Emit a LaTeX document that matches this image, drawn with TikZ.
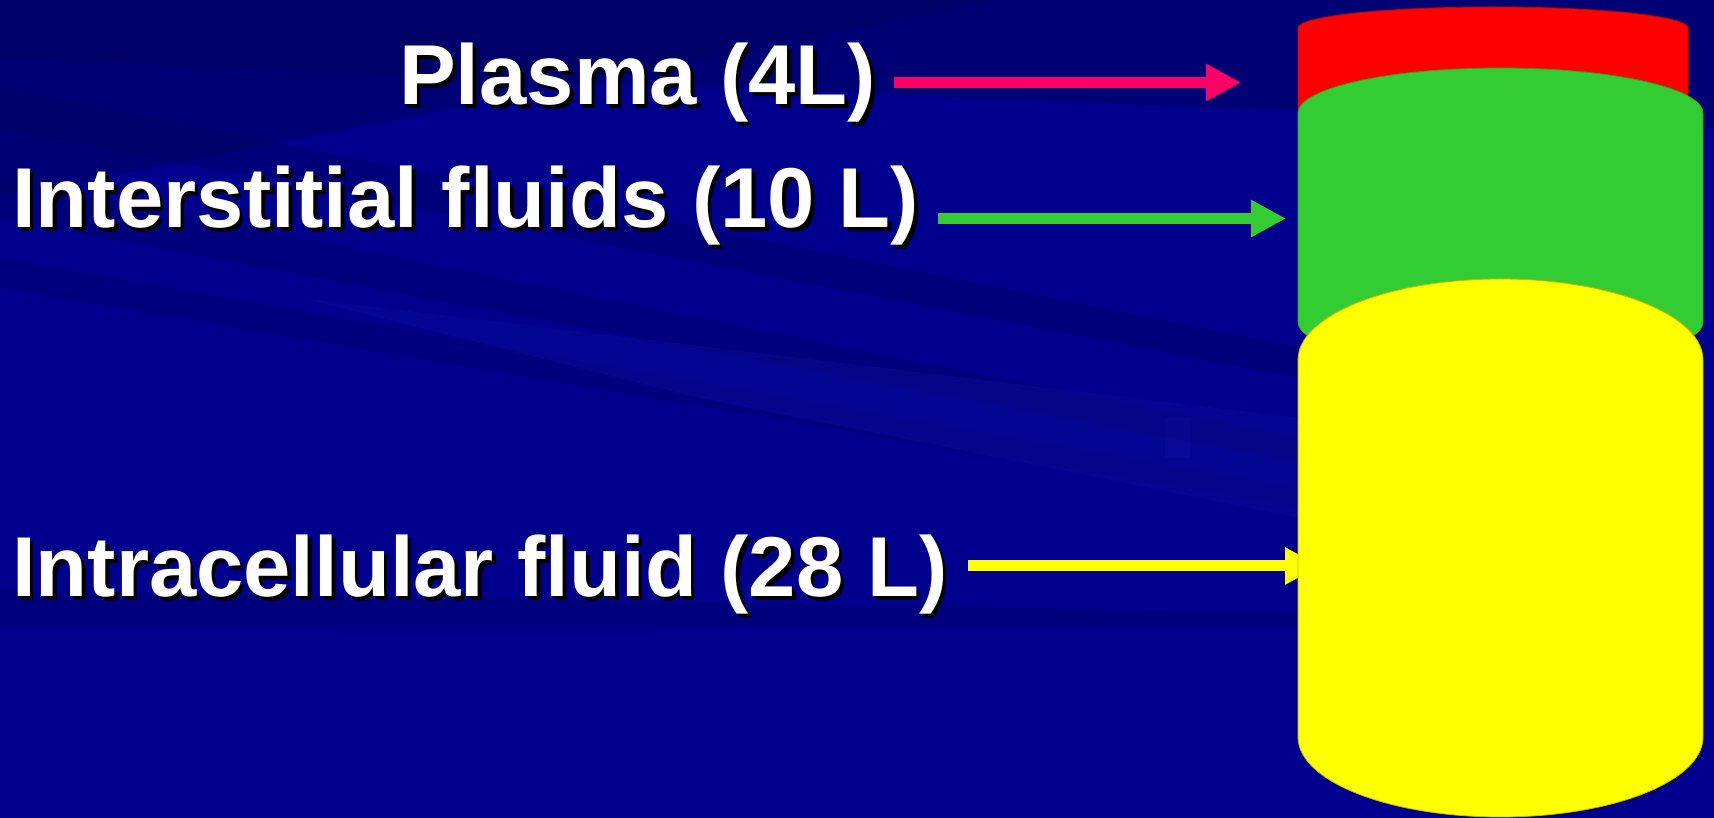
\documentclass[tikz,border=0pt]{standalone}
\usepackage{fontspec}
\setmainfont{Liberation Sans}
\usetikzlibrary{arrows.meta}
\definecolor{bgbase}{RGB}{0,0,140}
\definecolor{bgdark}{RGB}{0,0,90}
\definecolor{bglight}{RGB}{20,20,175}
\definecolor{pinkarrow}{RGB}{255,0,102}
\definecolor{fgreen}{RGB}{51,204,51}
\definecolor{fred}{RGB}{255,0,0}
\definecolor{fyellow}{RGB}{255,255,0}
\newcommand{\shadowed}[1]{\makebox[0pt][l]{\hspace{3.5pt}\raisebox{-3.5pt}{\color{black}#1}}#1}
\tikzset{
  lbltext/.style={font=\fontsize{85}{100}\selectfont\bfseries, text=white, inner sep=0pt, anchor=base west},
  fluidarrow/.style={line width=11pt, -{Triangle[length=35pt,width=35pt]}},
  cylpart/.style={line width=0.8pt}
}
\begin{document}
\begin{tikzpicture}[x=1pt,y=1pt]
\useasboundingbox (0,0) rectangle (1714,818);
% background
\fill[bgbase] (0,0) rectangle (1714,818);
\fill[bgdark, opacity=0.45] (0,818) -- (1714,818) -- (1714,690) -- (0,760) -- cycle;
\fill[bgdark, opacity=0.45] (0,818) -- (1000,818) -- (0,620) -- cycle;
\fill[bgdark, opacity=0.35] (0,730) -- (1300,470) -- (1300,440) -- (0,690) -- cycle;
\fill[bgdark, opacity=0.30] (0,640) -- (1300,380) -- (1300,355) -- (0,600) -- cycle;
\fill[bgdark, opacity=0.25] (0,560) -- (1300,330) -- (1300,310) -- (0,530) -- cycle;
\fill[bglight, opacity=0.25] (300,520) -- (1300,400) -- (1300,300) -- (700,420) -- cycle;
\fill[bgdark, opacity=0.30] (0,228) -- (1300,205) -- (1300,192) -- (0,193) -- cycle;
\fill[bglight, opacity=0.2] (1165,400) rectangle (1190,360);
% cylinders
\fill[fred, draw=fred!80!black, cylpart] (1298,790) -- (1298,705)
  arc[start angle=180, end angle=360, x radius=195pt, y radius=21pt]
  -- (1688,790)
  arc[start angle=0, end angle=180, x radius=195pt, y radius=21pt] -- cycle;
\fill[fgreen, draw=fgreen!80!black, cylpart] (1298,705) -- (1298,496)
  arc[start angle=180, end angle=360, x radius=202.5pt, y radius=45pt]
  -- (1703,705)
  arc[start angle=0, end angle=180, x radius=202.5pt, y radius=45pt] -- cycle;
% arrows (yellow one hidden under the yellow cylinder at its tip)
\coordinate (pA) at (894,735.5);
\coordinate (pB) at (1241,735.5);
\coordinate (gA) at (938,599.5);
\coordinate (gB) at (1286,599.5);
\coordinate (yA) at (968,252);
\coordinate (yB) at (1320,252);
\draw[fluidarrow, pinkarrow] (pA) -- (pB);
\draw[fluidarrow, fgreen] (gA) -- (gB);
\draw[fluidarrow, fyellow] (yA) -- (yB);
\fill[fyellow, draw=fyellow!75!black, cylpart] (1298,458) -- (1298,81)
  arc[start angle=180, end angle=360, x radius=202.5pt, y radius=80pt]
  -- (1703,458)
  arc[start angle=0, end angle=180, x radius=202.5pt, y radius=81pt] -- cycle;
% labels
\node[lbltext] (plasma) at (399,713) {\shadowed{Plasma (4L)}};
\node[lbltext] (inter) at (12,590) {\shadowed{Interstitial fluids (10 L)}};
\node[lbltext] (intra) at (12,221) {\shadowed{Intracellular fluid (28 L)}};
\end{tikzpicture}
\end{document}
